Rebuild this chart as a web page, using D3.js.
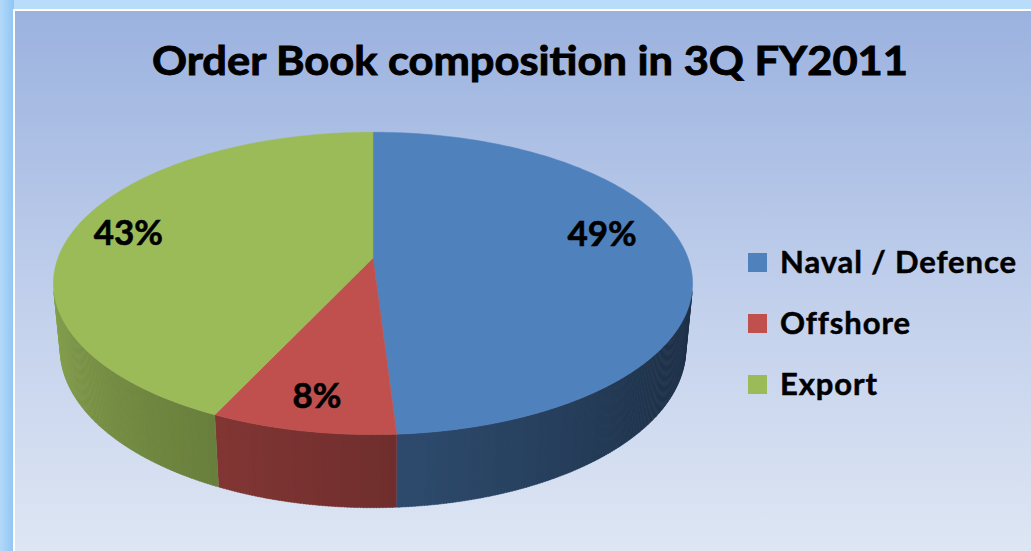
<!DOCTYPE html>
<html>
<head>
<meta charset="utf-8">
<script src="https://d3js.org/d3.v7.min.js"></script>
<style>
  html, body { margin: 0; padding: 0; background: #a9d2f7; }
  svg { display: block; }
</style>
</head>
<body>
<svg id="chart" width="1031" height="551"></svg>
<script>
// chart data
const title = "Order Book composition in 3Q FY2011";
const categories = ["Naval / Defence", "Offshore", "Export"];
const shares = [49, 8, 43];
const colors = ["#4f81bd", "#c0504d", "#9bbb59"];

const W = 1031, H = 551;
const svg = d3.select("#chart");
const defs = svg.append("defs");

// frame + background
const bgGrad = defs.append("linearGradient").attr("id", "bg")
  .attr("x1", 0).attr("y1", 0).attr("x2", 0).attr("y2", 1);
bgGrad.append("stop").attr("offset", "0%").attr("stop-color", "#9bb2df");
bgGrad.append("stop").attr("offset", "55%").attr("stop-color", "#c3d1ec");
bgGrad.append("stop").attr("offset", "100%").attr("stop-color", "#dfe7f4");

const frameGrad = defs.append("linearGradient").attr("id", "frame")
  .attr("x1", 0).attr("y1", 0).attr("x2", 1).attr("y2", 0);
frameGrad.append("stop").attr("offset", "0%").attr("stop-color", "#b3d9f9");
frameGrad.append("stop").attr("offset", "100%").attr("stop-color", "#8fc5f4");

svg.append("rect").attr("width", W).attr("height", H).attr("fill", "#b8dcfa");
svg.append("rect").attr("width", 14).attr("height", H).attr("fill", "url(#frame)");
svg.append("rect").attr("x", 13).attr("y", 9).attr("width", W).attr("height", H)
  .attr("fill", "#ffffff");
svg.append("rect").attr("x", 15).attr("y", 11).attr("width", W).attr("height", H)
  .attr("fill", "url(#bg)");

const font = "Lato, 'Open Sans', sans-serif";

// title
svg.append("text")
  .attr("x", 530).attr("y", 75)
  .attr("text-anchor", "middle")
  .attr("textLength", 756).attr("lengthAdjust", "spacingAndGlyphs")
  .style("font-family", font)
  .style("font-weight", 700)
  .style("font-size", "40px")
  .attr("fill", "#000")
  .attr("stroke", "#000").attr("stroke-width", 0.9)
  .text(title);

// 3D pie: perspective projection of a flat cylinder
const cx = 373, cy = 258;
const phi = 27.8 * Math.PI / 180;   // elevation
const dist = 5.26, focal = 1657, thick = 0.237;

function project(theta, rho, level) {
  const x3 = rho * Math.sin(theta);
  const z3 = rho * Math.cos(theta);
  const y3 = level ? -thick : 0;
  const u = y3 * Math.cos(phi) + z3 * Math.sin(phi);
  const w = z3 * Math.cos(phi) - y3 * Math.sin(phi);
  return [cx + focal * x3 / (dist + w), cy - focal * u / (dist + w)];
}

const pie = d3.pie().sort(null).value(d => d);
const arcs = pie(shares);

// visible part of the outer wall
const cLim = -1 / (dist * Math.cos(phi));
const visLo = Math.acos(cLim), visHi = 2 * Math.PI - visLo;

function shade(theta) {
  const deg = theta * 180 / Math.PI;
  return Math.max(0.38, Math.min(0.88, 0.42 + (deg - 130) * 0.0034));
}

const walls = svg.append("g");
arcs.forEach((a, i) => {
  const lo = Math.max(a.startAngle, visLo);
  const hi = Math.min(a.endAngle, visHi);
  if (lo >= hi) return;
  const n = Math.max(2, Math.ceil((hi - lo) / (0.5 * Math.PI / 180)));
  const step = (hi - lo) / n;
  for (let k = 0; k < n; k++) {
    const t0 = lo + k * step, t1 = Math.min(hi, t0 + step + (k < n - 1 ? step * 0.3 : 0));
    const pts = [project(t0, 1, 0), project(t1, 1, 0), project(t1, 1, 1), project(t0, 1, 1)];
    const col = d3.interpolateRgb("#000", colors[i])(shade((t0 + t1) / 2));
    walls.append("path")
      .attr("d", "M" + pts.map(p => p.join(",")).join("L") + "Z")
      .attr("fill", col)
      .attr("stroke", col)
      .attr("stroke-width", 0.4);
  }
});

// top faces
const topLine = d3.line();
svg.append("g").selectAll("path")
  .data(arcs)
  .join("path")
  .attr("d", d => {
    const n = Math.max(4, Math.ceil((d.endAngle - d.startAngle) / (Math.PI / 180)));
    const pts = [project(0, 0, 0)];
    for (let k = 0; k <= n; k++) {
      pts.push(project(d.startAngle + (d.endAngle - d.startAngle) * k / n, 1, 0));
    }
    return topLine(pts) + "Z";
  })
  .attr("fill", (d, i) => colors[i])
  .attr("stroke", (d, i) => colors[i])
  .attr("stroke-width", 0.5);

// data labels (Excel pulls the big slice's label toward the far side)
const labelNudge = [[-28, -21], [0, 0], [0, 0]];
const fmt = d3.format(".0%");
const total = d3.sum(shares);
svg.append("g").selectAll("text")
  .data(arcs)
  .join("text")
  .attr("transform", (d, i) => {
    const p = project((d.startAngle + d.endAngle) / 2, 0.82, 0);
    return `translate(${p[0] + labelNudge[i][0]},${p[1] + 13 + labelNudge[i][1]})`;
  })
  .attr("text-anchor", "middle")
  .style("font-family", font)
  .style("font-weight", 700)
  .style("font-size", "35px")
  .attr("fill", "#000")
  .attr("stroke", "#000").attr("stroke-width", 0.6)
  .text(d => fmt(d.data / total));

// legend
const legendY = d3.scalePoint().domain(categories).range([273, 395]);
const legend = svg.append("g").selectAll("g")
  .data(categories)
  .join("g")
  .attr("transform", d => `translate(748,${legendY(d)})`);

legend.append("rect")
  .attr("x", 0).attr("y", -20)
  .attr("width", 19).attr("height", 19)
  .attr("fill", (d, i) => colors[i]);

legend.append("text")
  .attr("x", 32).attr("y", 0)
  .style("font-family", font)
  .style("font-weight", 700)
  .style("font-size", "31px")
  .style("letter-spacing", "0.9px")
  .attr("fill", "#000")
  .attr("stroke", "#000").attr("stroke-width", 0.5)
  .text(d => d);
</script>
</body>
</html>
